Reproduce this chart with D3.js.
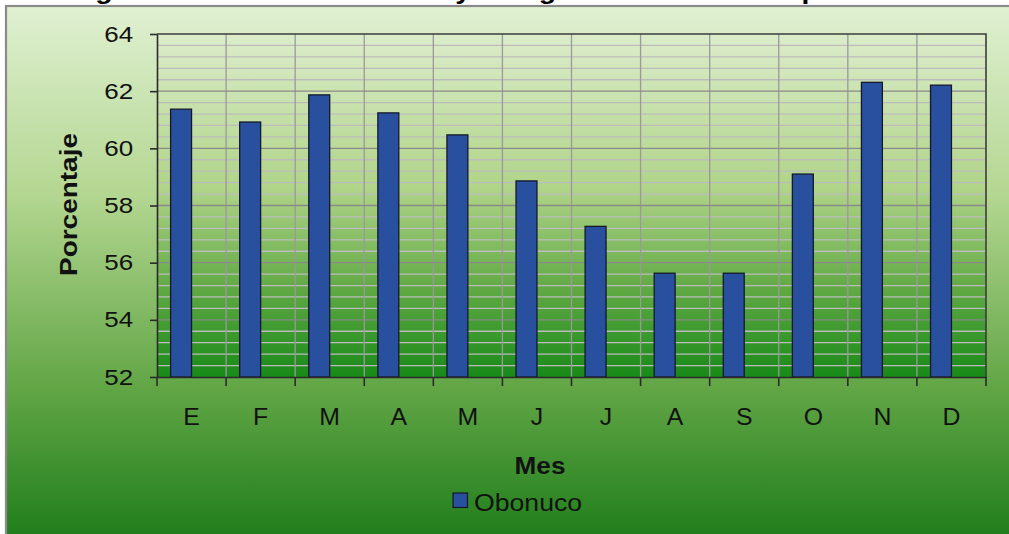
<!DOCTYPE html>
<html><head><meta charset="utf-8">
<script src="https://cdn.jsdelivr.net/npm/d3@7/dist/d3.min.js"></script>
<style>html,body{margin:0;padding:0;background:#fff;overflow:hidden}</style>
</head><body>
<svg id="c" width="1009" height="534"></svg>
<script>
const months = ["E","F","M","A","M","J","J","A","S","O","N","D"];
const obonuco = [61.37, 60.92, 61.87, 61.24, 60.47, 58.86, 57.27, 55.63, 55.63, 59.10, 62.31, 62.21];
const seriesNames = ["Obonuco"];
const yTicks = [52, 54, 56, 58, 60, 62, 64];
const titleText = "Figura 10. Humedad relativa y energía solar media del período";
const xTitle = "Mes";
const yTitle = "Porcentaje";

const svg = d3.select("#c");
const W = 1009, H = 534;
const FONT = "'Liberation Sans', Arial, sans-serif";
const plot = {l: 157, r: 986, t: 34, b: 377};

const defs = svg.append("defs");
const g1 = defs.append("linearGradient").attr("id","outerG").attr("x1",0).attr("y1",0).attr("x2",0).attr("y2",1);
[[0,"#e0f0d2"],[0.35,"#b3d690"],[0.7,"#62a646"],[1,"#1b7a18"]].forEach(s=>g1.append("stop").attr("offset",s[0]).attr("stop-color",s[1]));
const g2 = defs.append("linearGradient").attr("id","plotG").attr("x1",0).attr("y1",0).attr("x2",0).attr("y2",1);
[[0,"#dcecca"],[0.45,"#b0d488"],[0.75,"#5ea842"],[1,"#188a18"]].forEach(s=>g2.append("stop").attr("offset",s[0]).attr("stop-color",s[1]));

// outer panel
svg.append("rect").attr("x",6).attr("y",6).attr("width",W+10).attr("height",H+10)
  .attr("fill","url(#outerG)").attr("stroke","#8a8a8a").attr("stroke-width",2.2);

// title (mostly cut off at top)
svg.append("text").attr("x",70).attr("y",-1.5).attr("font-family",FONT).attr("font-weight","bold")
  .attr("font-size",24).attr("fill","#000")
  .attr("transform","translate(70,0) scale(1.18,1) translate(-70,0)").text(titleText);

const x = d3.scaleBand().domain(d3.range(months.length)).range([plot.l, plot.r]).padding(0);
const y = d3.scaleLinear().domain([52, 64]).range([plot.b, plot.t]);
const slot = d3.scaleBand().domain([0,1]).range([0, x.bandwidth()]).paddingInner(0).paddingOuter(0.65);

svg.append("rect").attr("x",plot.l).attr("y",plot.t).attr("width",plot.r-plot.l).attr("height",plot.b-plot.t)
  .attr("fill","url(#plotG)");

// minor gridlines
const minor = d3.range(52, 64.001, 0.4).filter(v => Math.abs(v/2 - Math.round(v/2)) > 0.01);
svg.append("g").selectAll("line").data(minor).join("line")
  .attr("x1",plot.l).attr("x2",plot.r).attr("y1",d=>y(d)).attr("y2",d=>y(d))
  .attr("stroke","#bcbcbc").attr("stroke-width",1.3);
// vertical gridlines
svg.append("g").selectAll("line").data(d3.range(1, months.length)).join("line")
  .attr("x1",d=>x(d)).attr("x2",d=>x(d)).attr("y1",plot.t).attr("y2",plot.b)
  .attr("stroke","#9a9a9a").attr("stroke-width",1.3);
// major gridlines
svg.append("g").selectAll("line").data(yTicks.slice(1,-1)).join("line")
  .attr("x1",plot.l).attr("x2",plot.r).attr("y1",d=>y(d)).attr("y2",d=>y(d))
  .attr("stroke","#8a8a8a").attr("stroke-width",1.4);
// top & right border
svg.append("path").attr("d",`M${plot.l},${plot.t}H${plot.r}V${plot.b}`).attr("fill","none")
  .attr("stroke","#3c3c3c").attr("stroke-width",1.6);

// bars
svg.append("g").selectAll("rect").data(obonuco).join("rect")
  .attr("x",(d,i)=>x(i)+slot(0)).attr("width",slot.bandwidth())
  .attr("y",d=>y(d)).attr("height",d=>y(52)-y(d))
  .attr("fill","#28509e").attr("stroke","#15182a").attr("stroke-width",1.3);

// y axis
const ya = svg.append("g").attr("transform",`translate(${plot.l},0)`)
  .call(d3.axisLeft(y).tickValues(yTicks).tickSize(7).tickSizeOuter(0).tickPadding(13.3).tickFormat(d3.format("d")));
ya.selectAll("path,line").attr("stroke","#2a2a2a").attr("stroke-width",1.6);
ya.selectAll("text").attr("font-family",FONT).attr("font-size",22).attr("fill","#111")
  .attr("transform","scale(1.18,1)");

// x axis
const xa = svg.append("g").attr("transform",`translate(0,${plot.b})`)
  .call(d3.axisBottom(x).tickSize(0).tickSizeOuter(0).tickPadding(32).tickFormat(i=>months[i]));
xa.select("path").attr("stroke","#2a2a2a").attr("stroke-width",1.6);
xa.selectAll("text").attr("font-family",FONT).attr("font-size",23).attr("fill","#111")
  .attr("transform","scale(1.08,1)");
// category boundary ticks
svg.append("g").selectAll("line").data(d3.range(0, months.length+1)).join("line")
  .attr("x1",d=>d<months.length?x(d):plot.r).attr("x2",d=>d<months.length?x(d):plot.r)
  .attr("y1",plot.b).attr("y2",plot.b+9).attr("stroke","#2a2a2a").attr("stroke-width",1.6);

// axis titles
svg.append("text").attr("x",540).attr("y",474).attr("text-anchor","middle")
  .attr("font-family",FONT).attr("font-weight","bold").attr("font-size",24).attr("fill","#111")
  .attr("transform","translate(540,0) scale(1.09,1) translate(-540,0)").text(xTitle);
svg.append("text").attr("transform","translate(77,204.5) rotate(-90)").attr("text-anchor","middle")
  .attr("font-family",FONT).attr("font-weight","bold").attr("font-size",23).attr("fill","#111")
  .attr("textLength",143).attr("lengthAdjust","spacingAndGlyphs").text(yTitle);

// legend
const lg = svg.append("g").attr("transform","translate(453,493)");
lg.selectAll("rect").data(seriesNames).join("rect").attr("x",0).attr("y",0).attr("width",14.5).attr("height",14.5)
  .attr("fill","#28509e").attr("stroke","#15182a").attr("stroke-width",1.2);
lg.selectAll("text").data(seriesNames).join("text").attr("x",21).attr("y",17.5)
  .attr("font-family",FONT).attr("font-size",24).attr("fill","#111")
  .attr("transform","translate(21,0) scale(1.11,1) translate(-21,0)").text(d=>d);
</script>
</body></html>
